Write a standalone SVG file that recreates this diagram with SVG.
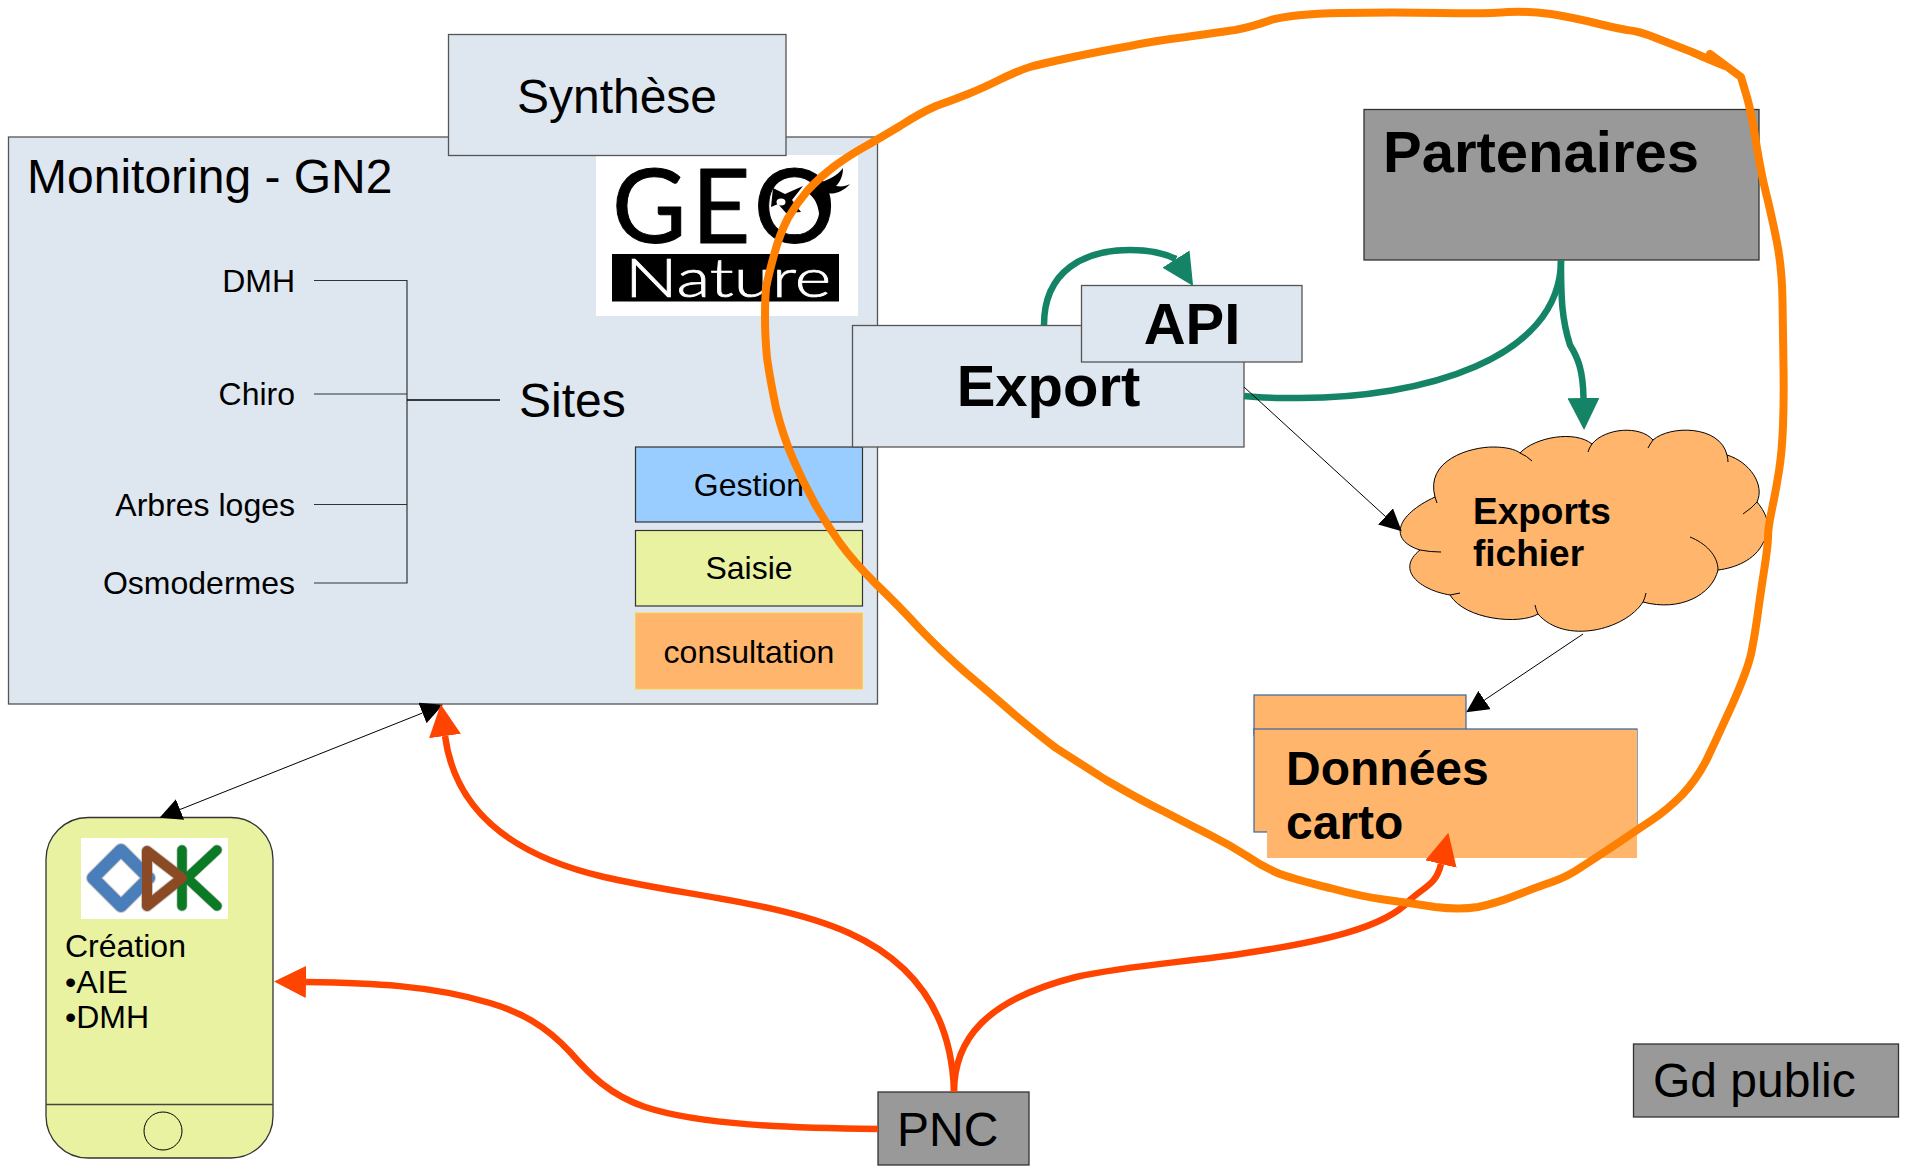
<svg xmlns="http://www.w3.org/2000/svg" width="1906" height="1166" viewBox="0 0 1906 1166">
  <style>
    text { font-family: "Liberation Sans", Arial, sans-serif; fill: #000; }
    .b { font-weight: bold; }
    .s32 { font-size: 32px; }
    .s47 { font-size: 48px; }
    .s57 { font-size: 58px; }
    .end { text-anchor: end; }
    .mid { text-anchor: middle; }
    .box { fill: #dee6ef; stroke: #555; stroke-width: 1.3; }
    .grey { fill: #999; stroke: #333; stroke-width: 1.3; }
    .thin { fill: none; stroke: #333; stroke-width: 1.2; }
    .cloudline { fill: none; stroke: #000; stroke-width: 1; }
    .black { fill: none; stroke: #000; stroke-width: 1; }
    .red { fill: none; stroke: #ff4400; stroke-width: 6.5; }
    .green { fill: none; stroke: #158466; stroke-width: 6.5; }
    .loop { fill: none; stroke: #ff8000; stroke-width: 8; stroke-linejoin: round; stroke-linecap: round; }
    .folder { fill: #ffb66c; stroke: #3465a4; stroke-width: 1.2; }
  </style>
  <defs>
    <marker id="arrRed" markerUnits="userSpaceOnUse" markerWidth="32" markerHeight="32" refX="0" refY="16" orient="auto" viewBox="0 0 32 32"><path d="M0,0L32,16L0,32Z" fill="#ff4400"/></marker>
    <marker id="arrGreen" markerUnits="userSpaceOnUse" markerWidth="32" markerHeight="32" refX="0" refY="16" orient="auto" viewBox="0 0 32 32"><path d="M0,0L32,16L0,32Z" fill="#158466"/></marker>
    <marker id="arrGreenApi" markerUnits="userSpaceOnUse" markerWidth="32" markerHeight="32" refX="0" refY="16" orient="57.6" viewBox="0 0 32 32"><path d="M0,0L32,16L0,32Z" fill="#158466"/></marker>
    <marker id="arrBlack" markerUnits="userSpaceOnUse" markerWidth="22" markerHeight="22" refX="0" refY="11" orient="auto-start-reverse" viewBox="0 0 22 22"><path d="M0,0L22,11L0,22Z" fill="#000"/></marker>
  </defs>

  <rect width="1906" height="1166" fill="#fff"/>

  <g id="monitoring">
    <rect class="box" x="8.5" y="137" width="869" height="567"/>
    <text class="s47" x="27" y="193">Monitoring - GN2</text>
    <text class="s32 end" x="295" y="292">DMH</text>
    <text class="s32 end" x="295" y="405">Chiro</text>
    <text class="s32 end" x="295" y="516">Arbres loges</text>
    <text class="s32 end" x="295" y="594">Osmodermes</text>
    <path class="thin" d="M314,280.5H407V583H314M314,394H407M314,504.5H407"/>
    <path d="M407,400H500" fill="none" stroke="#000" stroke-width="1.6"/>
    <text class="s47" x="519" y="417">Sites</text>
  </g>

  <g id="geonature-logo">
    <rect x="596" y="155" width="262" height="161" fill="#fff"/>
    <text x="612" y="243" letter-spacing="5" stroke="#000" stroke-width="1" stroke-linejoin="round" style="font-family:Lato,'Liberation Sans',sans-serif;font-size:102px">GEO</text>
    <rect x="612" y="254" width="227" height="47.5" fill="#000"/>
    <text x="625" y="297" textLength="206" lengthAdjust="spacingAndGlyphs" stroke="#fff" stroke-width="0.7" style="font-family:Lato,'Liberation Sans',sans-serif;font-size:54px;font-weight:300;fill:#fff">Nature</text>
    <path d="M812,186C825,181 838,176 843,168C843,176 840,182 836,186C842,187 846,186 850,184C843,192 833,195 826,193C828,205 827,216 820,228C820,212 818,198 806,192Z" fill="#000"/>
    <path d="M773,188L785,194L803,186L792,200L801,212L786,213L778,204L771,207Z" fill="#000"/>
    <ellipse cx="781" cy="202" rx="4.5" ry="3.5" fill="#fff"/>
  </g>

  <g id="synthese">
    <rect class="box" x="448.5" y="34.5" width="337.5" height="121"/>
    <text class="s47 mid" x="617" y="113">Synthèse</text>
  </g>

  <g id="gestion">
    <rect x="635.5" y="447" width="227" height="75" fill="#99ccff" stroke="#333" stroke-width="1.2"/>
    <text class="s32 mid" x="749" y="496">Gestion</text>
  </g>
  <g id="saisie">
    <rect x="635.5" y="530.5" width="227" height="75.5" fill="#e8f2a1" stroke="#333" stroke-width="1.2"/>
    <text class="s32 mid" x="749" y="579">Saisie</text>
  </g>
  <g id="consultation">
    <rect x="635.5" y="613" width="227" height="76" fill="#ffb66c" stroke="#ffd428" stroke-width="0.8"/>
    <text class="s32 mid" x="749" y="663">consultation</text>
  </g>

  <g id="export">
    <rect class="box" x="852.5" y="325.5" width="391.5" height="121.5"/>
    <text class="b s57 mid" x="1048.5" y="406">Export</text>
  </g>
  <g id="api">
    <rect class="box" x="1081.5" y="285.5" width="220.5" height="76.5"/>
    <text class="b s57 mid" x="1192" y="344">API</text>
  </g>

  <g id="partenaires">
    <rect class="grey" x="1364" y="109.5" width="395" height="150.5"/>
    <text class="b s57" x="1383" y="172">Partenaires</text>
  </g>

  <g id="exports-fichier">
    <path d="M1435,497C1425,460 1470,447 1493,447C1505,447 1515,449 1520,453C1535,437 1575,430 1592,444C1605,428 1640,425 1653,440C1670,425 1720,425 1727,455C1750,462 1765,485 1757,502C1768,515 1772,530 1763,543C1755,560 1735,568 1718,570C1712,595 1680,612 1643,602C1625,630 1565,645 1538,614C1520,625 1465,620 1450,595C1420,590 1395,570 1420,550C1388,540 1396,515 1435,497Z" fill="#ffb66c" stroke="#000" stroke-width="1"/>
    <path class="cloudline" d="M1435,497L1437,503M1520,453Q1527,456 1532,461M1592,444Q1589,448 1588,452M1653,440Q1650,444 1648,448M1727,455Q1728,459 1728,462M1757,502Q1752,508 1743,514M1718,570C1718,555 1705,543 1690,537M1643,602Q1645,598 1646,593M1538,614Q1536,610 1535,605M1450,595Q1455,594 1460,593M1420,550Q1430,552 1441,552"/>
    <text class="b" x="1473" y="524" style="font-size:37px">Exports</text>
    <text class="b" x="1473" y="566" style="font-size:37px">fichier</text>
  </g>

  <g id="donnees-carto">
    <rect class="folder" x="1254" y="695" width="212" height="40"/>
    <rect class="folder" x="1254" y="729" width="383" height="103"/>
    <rect x="1267" y="730" width="370" height="128" fill="#ffb66c"/>
    <text class="b s47" x="1286" y="785">Données</text>
    <text class="b s47" x="1286" y="839">carto</text>
  </g>

  <g id="mobile">
    <rect x="46" y="817.5" width="227" height="340.5" rx="42" ry="42" fill="#e8f2a1" stroke="#333" stroke-width="1.3"/>
    <path d="M46,1104.5H273" fill="none" stroke="#444" stroke-width="1.3"/>
    <circle cx="163" cy="1131" r="19" fill="none" stroke="#000" stroke-width="1"/>
    <rect x="81" y="838" width="147" height="81" fill="#fff"/>
    <g fill="none" stroke-linejoin="round" stroke-linecap="round">
      <path d="M121,850L149,878L121,906L93,878Z" stroke="#c8c8c8" stroke-width="14"/>
      <path d="M147,851L182,878L147,906Z" stroke="#c8c8c8" stroke-width="12"/>
      <path d="M182,850V906M217,850L187,878L217,906" stroke="#c8c8c8" stroke-width="11"/>
      <path d="M121,850L149,878L121,906L93,878Z" stroke="#4a7ebb" stroke-width="12"/>
      <path d="M182,850V906M217,850L187,878L217,906" stroke="#0b7a25" stroke-width="9.5"/>
      <path d="M147,851L182,878L147,906Z" stroke="#8b4a23" stroke-width="10"/>
    </g>
    <text class="s32" x="65" y="957">Création</text>
    <text class="s32" x="65" y="993">•AIE</text>
    <text class="s32" x="65" y="1028">•DMH</text>
  </g>

  <g id="pnc">
    <rect class="grey" x="878" y="1092" width="151" height="73"/>
    <text class="s47" x="897" y="1146">PNC</text>
  </g>
  <g id="gd-public">
    <rect class="grey" x="1633.5" y="1044" width="265" height="73"/>
    <text class="s47" x="1653" y="1097">Gd public</text>
  </g>

  <g id="connectors">
    <path class="green" d="M1044,325C1044,270 1085,250 1130,250C1145,250 1162,252 1176,259" marker-end="url(#arrGreenApi)"/>
    <path class="green" d="M1561,260C1561,360 1420,398 1300,398C1280,398 1260,398 1244,396"/>
    <path class="green" d="M1561,260C1561,300 1562,320 1570,345C1578,358 1583,370 1583.5,398" marker-end="url(#arrGreen)"/>
    <path class="black" d="M1244,387L1385.5,516.5" marker-end="url(#arrBlack)"/>
    <path class="black" d="M1583,634L1484.5,700" marker-end="url(#arrBlack)"/>
    <path class="black" d="M180,809.5L422.5,713" marker-start="url(#arrBlack)" marker-end="url(#arrBlack)"/>
    <path class="red" d="M954,1092C952,1020 920,965 849,933C780,902 680,895 604,877C510,855 455,810 445,736" marker-end="url(#arrRed)"/>
    <path class="red" d="M878,1129C790,1128 700,1125 645,1107C610,1095 590,1075 570,1052C545,1025 520,1012 490,1003C430,985 370,983 306,982" marker-end="url(#arrRed)"/>
    <path class="red" d="M954,1092C954,1040 985,1000 1076,977C1130,965 1190,962 1246,953C1320,942 1385,928 1410,900C1425,886 1436,885 1441,864" marker-end="url(#arrRed)"/>
    <path class="loop" d="M1710,54L1741,77L1746,94Q1751,110 1756,142Q1761,173 1766,193Q1771,213 1776.5,240Q1782,267 1782.5,300Q1783,333 1783.5,367Q1784,400 1783,426Q1782,452 1779,471Q1776,490 1772,509Q1768,528 1768,537Q1768,545 1764,571Q1760,597 1757.5,616Q1755,634 1751.5,652Q1748,669 1732.5,704Q1717,738 1707,759Q1697,779 1682,795Q1667,810 1652,820Q1637,830 1618,843Q1600,855 1583,866Q1567,877 1552,882Q1537,887 1517,895Q1497,903 1478,907Q1460,910 1435,907Q1410,903 1387,900Q1363,897 1330,888Q1297,880 1280,874Q1263,867 1247,856Q1230,845 1210,835Q1190,825 1165,812Q1140,800 1106,780Q1073,759 1056,748Q1040,736 1015,715Q990,693 965,672Q940,650 920,629Q900,607 876,584Q853,561 840,543Q827,525 815,504Q803,482 793,459Q783,436 776,408Q770,379 767,358Q765,336 765,318Q765,300 766,288Q768,277 774,255Q780,233 788,218Q797,203 808,190Q820,177 836,165Q853,153 866,146Q880,138 900,126Q920,113 936,106Q953,100 968,94Q983,88 1001,79Q1020,70 1030,67Q1040,64 1073,57Q1107,50 1130,46Q1153,41 1186,37Q1220,32 1235,30Q1251,27 1271,20Q1291,14 1342,13Q1394,12 1441,13Q1489,14 1508,12Q1528,11 1551,14Q1575,18 1595,23Q1615,28 1627,30Q1639,31 1656,38Q1674,45 1692,52Q1710,60 1725,66"/>
  </g>
</svg>
